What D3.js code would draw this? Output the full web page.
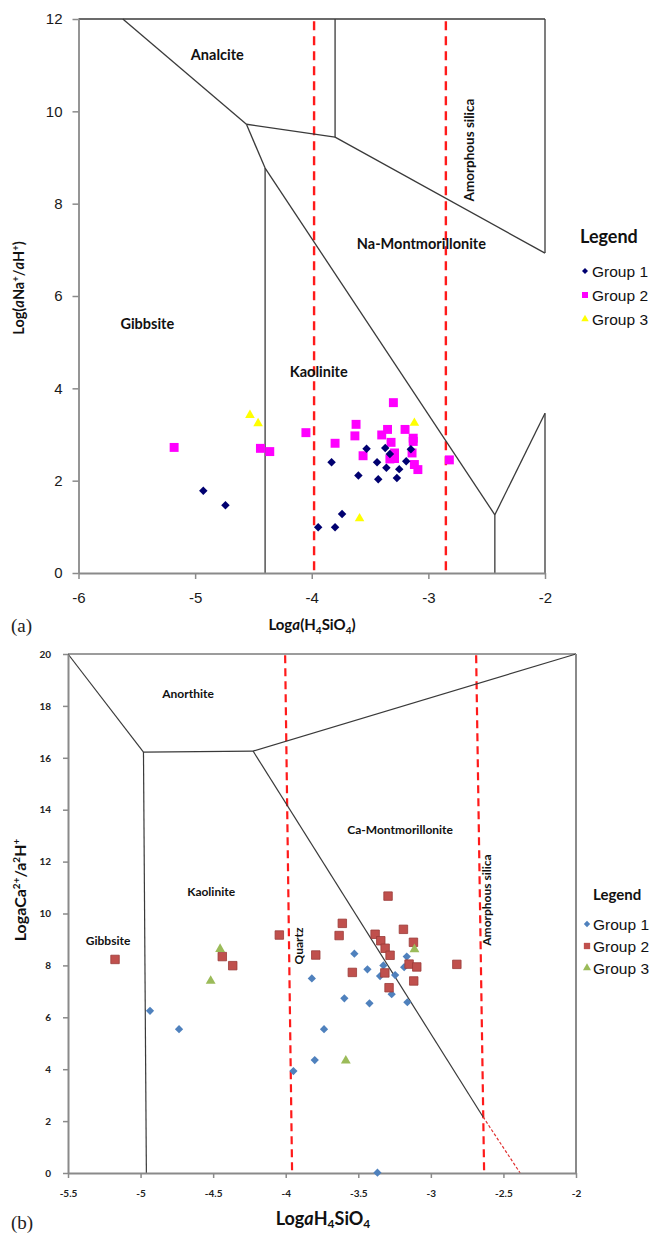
<!DOCTYPE html>
<html lang="en">
<head>
<meta charset="utf-8" />
<title>Stability diagrams</title>
<script src="https://cdn.jsdelivr.net/npm/d3@7"></script>
<style>
  body { margin:0; background:#fff; }
  svg { display:block; }
</style>
</head>
<body>
<script>
// ---- chart (a): Na system ----
var naTicksX = [-6, -5, -4, -3, -2];
var naTicksY = [0, 2, 4, 6, 8, 10, 12];
var naGroup1 = [[-4.93,1.78],[-4.74,1.47],[-3.945,0.99],[-3.80,0.99],[-3.74,1.28],[-3.83,2.40],[-3.60,2.11],[-3.53,2.69],
  [-3.44,2.40],[-3.43,2.03],[-3.37,2.71],[-3.36,2.28],[-3.27,2.06],[-3.25,2.25],[-3.19,2.42],[-3.15,2.68],[-3.33,2.58]];
var naGroup2 = [[-5.18,2.72],[-4.44,2.70],[-4.36,2.63],[-4.05,3.04],[-3.80,2.81],[-3.63,2.97],[-3.62,3.22],[-3.56,2.54],
  [-3.40,2.99],[-3.35,3.11],[-3.30,3.69],[-3.32,2.83],[-3.29,2.60],[-3.33,2.47],[-3.29,2.48],[-3.20,3.11],[-3.13,2.92],
  [-3.13,2.85],[-3.14,2.60],[-3.12,2.35],[-3.09,2.24],[-2.82,2.45]];
var naGroup3 = [[-4.53,3.42],[-4.46,3.24],[-3.12,3.25],[-3.59,1.18]];
// phase boundaries [x1,y1,x2,y2]
var naBounds = [[-6,12,-2,12],[-5.62,12,-4.56,9.72],[-4.56,9.72,-3.80,9.44],[-3.80,9.44,-3.80,12],[-3.80,9.44,-2,6.93],
  [-2,6.93,-2,12],[-4.56,9.72,-4.40,8.77],[-4.40,8.77,-2.43,1.26],[-4.40,8.77,-4.40,0],[-2.43,1.26,-2.43,0],
  [-2.43,1.26,-2,3.46],[-2,3.46,-2,0]];
var naQuartz = [[-3.98,11.95,-3.98,0]];
var naAmorph = [[-2.85,11.95,-2.85,0]];
var naLabels = [["Analcite",-4.81,11.23],["Na-Montmorillonite",-3.06,7.12],["Gibbsite",-5.41,5.39],["Kaolinite",-3.94,4.35]];

// ---- chart (b): Ca system ----
var caTicksX = [-5.5, -5, -4.5, -4, -3.5, -3, -2.5, -2];
var caTicksY = [0, 2, 4, 6, 8, 10, 12, 14, 16, 18, 20];
var caGroup1 = [[-4.935,6.25],[-4.735,5.54],[-3.947,3.93],[-3.80,4.35],[-3.82,7.50],[-3.736,5.54],[-3.596,6.73],[-3.527,8.45],
  [-3.437,7.85],[-3.423,6.54],[-3.368,0.01],[-3.327,8.00],[-3.35,7.59],[-3.246,7.63],[-3.27,6.89],[-3.166,8.34],
  [-3.184,7.93],[-3.162,6.58]];
var caGroup2 = [[-5.176,8.23],[-4.437,8.34],[-4.365,7.99],[-4.044,9.17],[-3.793,8.40],[-3.632,9.15],[-3.61,9.62],[-3.541,7.73],
  [-3.295,10.67],[-3.384,9.20],[-3.345,8.95],[-3.315,8.66],[-3.281,8.39],[-3.189,9.39],[-3.12,8.89],[-3.15,8.05],
  [-3.097,7.94],[-3.317,7.71],[-3.288,7.14],[-3.118,7.40],[-2.821,8.04]];
var caGroup3 = [[-4.452,8.63],[-4.517,7.40],[-3.586,4.33],[-3.113,8.62]];
var caBounds = [[-5.5,20,-2,20],[-5.5,20,-4.98,16.22],[-4.98,16.22,-4.225,16.26],[-4.225,16.26,-2,20],
  [-4.225,16.26,-2.64,2.16],[-4.98,16.22,-4.96,0]];
var caQuartz = [[-4.004,19.95,-3.956,0]];
var caAmorph = [[-2.688,19.95,-2.633,0]];
var caExtra = [[-2.64,2.16,-2.385,0]];
var caLabels = [["Anorthite",-4.673,18.46],["Ca-Montmorillonite",-3.212,13.22],["Kaolinite",-4.514,10.83],["Gibbsite",-5.224,8.94]];

var legendNames = ["Group 1", "Group 2", "Group 3"];

var svg = d3.select('body').append('svg')
  .attr('width', 657)
  .attr('height', 1234);

var lab = 'Lato, "Open Sans", sans-serif';
var arial = '"Liberation Sans", Arial, sans-serif';
var plain = function(d){ return String(d); };

function seg(g, data, x, y, stroke, width, dash) {
  g.selectAll(null).data(data).enter().append('line')
    .attr('x1', function(d){return x(d[0]);})
    .attr('y1', function(d){return y(d[1]);})
    .attr('x2', function(d){return x(d[2]);})
    .attr('y2', function(d){return y(d[3]);})
    .attr('stroke', stroke)
    .attr('stroke-width', width)
    .attr('stroke-dasharray', dash || null);
}

function points(g, data, x, y, type, size, fill, stroke, rot) {
  g.selectAll(null).data(data).enter().append('path')
    .attr('d', d3.symbol().type(type).size(size))
    .attr('transform', function(d){return 'translate(' + x(d[0]) + ',' + y(d[1]) + ')' + (rot ? ' rotate(45)' : '');})
    .attr('fill', fill)
    .attr('stroke', stroke || 'none')
    .attr('stroke-width', stroke ? 0.8 : 0);
}

// ===== (a) =====
var xa = d3.scaleLinear().domain([-6, -2]).range([78.5, 545]);
var ya = d3.scaleLinear().domain([0, 12]).range([573, 19]);
var ga = svg.append('g');

seg(ga, naQuartz, xa, ya, '#ff1a1a', 2.4, '9,6');
seg(ga, naAmorph, xa, ya, '#ff1a1a', 2.4, '9,6');
seg(ga, naBounds, xa, ya, '#3a3a3a', 1.3);

var axA = ga.append('g').attr('transform', 'translate(0,573)')
  .call(d3.axisBottom(xa).tickValues(naTicksX).tickSize(6).tickSizeOuter(0).tickPadding(13).tickFormat(plain));
var ayA = ga.append('g').attr('transform', 'translate(78.5,0)')
  .call(d3.axisLeft(ya).tickValues(naTicksY).tickSize(6).tickSizeOuter(0).tickPadding(10).tickFormat(plain));
[axA, ayA].forEach(function(a) {
  a.select('.domain').attr('stroke', '#8a8a8a').attr('stroke-width', 1.8);
  a.selectAll('.tick line').attr('stroke', '#8a8a8a').attr('stroke-width', 1.5);
  a.selectAll('.tick text').style('font-family', arial).style('font-size', '15px').attr('fill', '#1a1a1a');
});

ga.selectAll(null).data(naLabels).enter().append('text')
  .attr('x', function(d){return xa(d[1]);})
  .attr('y', function(d){return ya(d[2]);})
  .attr('text-anchor', 'middle')
  .attr('dy', '0.35em')
  .style('font-family', lab).style('font-weight', 'bold').style('font-size', '14.5px')
  .attr('fill', '#111')
  .text(function(d){return d[0];});

ga.append('text')
  .attr('transform', 'translate(474,150) rotate(-90)')
  .attr('text-anchor', 'middle')
  .style('font-family', lab).style('font-weight', 'bold').style('font-size', '13.5px')
  .attr('fill', '#111')
  .text('Amorphous silica');

points(ga, naGroup2, xa, ya, d3.symbolSquare, 80, '#ff00ff');
points(ga, naGroup1, xa, ya, d3.symbolSquare, 36, '#000070', null, true);
points(ga, naGroup3, xa, ya, d3.symbolTriangle, 40, '#ffff00');

// axis titles (a)
var tA = ga.append('text').attr('x', 312).attr('y', 630).attr('text-anchor', 'middle')
  .style('font-family', lab).style('font-weight', 'bold').style('font-size', '15px').attr('fill', '#111');
tA.append('tspan').text('Log');
tA.append('tspan').style('font-style', 'italic').text('a');
tA.append('tspan').text('(H');
tA.append('tspan').attr('dy', 4).style('font-size', '10px').text('4');
tA.append('tspan').attr('dy', -4).text('SiO');
tA.append('tspan').attr('dy', 4).style('font-size', '10px').text('4');
tA.append('tspan').attr('dy', -4).text(')');

var tyA = ga.append('text').attr('transform', 'translate(24,288) rotate(-90)').attr('text-anchor', 'middle')
  .style('font-family', lab).style('font-weight', 'bold').style('font-size', '14.5px').attr('fill', '#111');
tyA.append('tspan').text('Log(');
tyA.append('tspan').style('font-style', 'italic').text('a');
tyA.append('tspan').text('Na');
tyA.append('tspan').attr('dy', -5).style('font-size', '9.5px').text('+');
tyA.append('tspan').attr('dy', 5).text('/');
tyA.append('tspan').style('font-style', 'italic').text('a');
tyA.append('tspan').text('H');
tyA.append('tspan').attr('dy', -5).style('font-size', '9.5px').text('+');
tyA.append('tspan').attr('dy', 5).text(')');

svg.append('text').attr('x', 11).attr('y', 632)
  .style('font-family', '"Liberation Serif", "DejaVu Serif", serif').style('font-size', '19px').attr('fill', '#222')
  .text('(a)');

// legend (a)
var legA = svg.append('g');
legA.append('text').attr('x', 580).attr('y', 243)
  .style('font-family', lab).style('font-weight', 'bold').style('font-size', '18px').attr('fill', '#111')
  .text('Legend');
var legTypesA = [[d3.symbolSquare, 18, '#000070', true], [d3.symbolSquare, 36, '#ff00ff', false], [d3.symbolTriangle, 24, '#ffff00', false]];
legendNames.forEach(function(n, i) {
  var cy = 271 + i * 24;
  legA.append('path')
    .attr('d', d3.symbol().type(legTypesA[i][0]).size(legTypesA[i][1]))
    .attr('transform', 'translate(585,' + cy + ')' + (legTypesA[i][3] ? ' rotate(45)' : ''))
    .attr('fill', legTypesA[i][2]);
  legA.append('text').attr('x', 592).attr('y', cy).attr('dy', '0.36em')
    .style('font-family', arial).style('font-size', '15.5px').attr('fill', '#111')
    .text(n);
});

// ===== (b) =====
var xb = d3.scaleLinear().domain([-5.5, -2]).range([68, 576]);
var yb = d3.scaleLinear().domain([0, 20]).range([1173, 654]);
var gb = svg.append('g');

seg(gb, caQuartz, xb, yb, '#ff1a1a', 2.2, '8,5');
seg(gb, caAmorph, xb, yb, '#ff1a1a', 2.2, '8,5');
seg(gb, caExtra, xb, yb, '#e03030', 1.2, '3,2');
seg(gb, caBounds, xb, yb, '#3a3a3a', 1.2);
seg(gb, [[-2, 20, -2, 0]], xb, yb, '#8a8a8a', 2);

var axB = gb.append('g').attr('transform', 'translate(0,1173)')
  .call(d3.axisBottom(xb).tickValues(caTicksX).tickSize(5).tickSizeOuter(0).tickPadding(12).tickFormat(plain));
var ayB = gb.append('g').attr('transform', 'translate(68,0)')
  .call(d3.axisLeft(yb).tickValues(caTicksY).tickSize(5).tickSizeOuter(0).tickPadding(12).tickFormat(plain));
[axB, ayB].forEach(function(a) {
  a.select('.domain').attr('stroke', '#8a8a8a').attr('stroke-width', 2);
  a.selectAll('.tick line').attr('stroke', '#8a8a8a').attr('stroke-width', 1.5);
  a.selectAll('.tick text').style('font-family', lab).style('font-weight', 'bold').style('font-size', '10px').attr('fill', '#222');
});

gb.selectAll(null).data(caLabels).enter().append('text')
  .attr('x', function(d){return xb(d[1]);})
  .attr('y', function(d){return yb(d[2]);})
  .attr('text-anchor', 'middle')
  .attr('dy', '0.35em')
  .style('font-family', lab).style('font-weight', 'bold').style('font-size', '12px')
  .attr('fill', '#111')
  .text(function(d){return d[0];});

gb.append('text')
  .attr('transform', 'translate(303,946) rotate(-90)')
  .attr('text-anchor', 'middle')
  .style('font-family', lab).style('font-weight', 'bold').style('font-size', '12px')
  .attr('fill', '#111')
  .text('Quartz');
gb.append('text')
  .attr('transform', 'translate(491,900) rotate(-90)')
  .attr('text-anchor', 'middle')
  .style('font-family', lab).style('font-weight', 'bold').style('font-size', '12px')
  .attr('fill', '#111')
  .text('Amorphous silica');

points(gb, caGroup1, xb, yb, d3.symbolSquare, 34, '#4f81bd', null, true);
points(gb, caGroup2, xb, yb, d3.symbolSquare, 72, '#c0504d', '#9a3b38');
points(gb, caGroup3, xb, yb, d3.symbolTriangle, 42, '#9bbb59');

// axis titles (b)
var tB = gb.append('text').attr('x', 323).attr('y', 1225).attr('text-anchor', 'middle')
  .style('font-family', lab).style('font-weight', 'bold').style('font-size', '18px').attr('fill', '#111');
tB.append('tspan').text('Log');
tB.append('tspan').style('font-style', 'italic').text('a');
tB.append('tspan').text('H');
tB.append('tspan').attr('dy', 3).style('font-size', '12px').text('4');
tB.append('tspan').attr('dy', -3).text('SiO');
tB.append('tspan').attr('dy', 3).style('font-size', '12px').text('4');

var tyB = gb.append('text').attr('transform', 'translate(26,890) rotate(-90)').attr('text-anchor', 'middle')
  .style('font-family', lab).style('font-weight', 'bold').style('font-size', '16px').attr('fill', '#111');
tyB.append('tspan').text('LogaCa');
tyB.append('tspan').attr('dy', -6).style('font-size', '10px').text('2+');
tyB.append('tspan').attr('dy', 6).text('/a');
tyB.append('tspan').attr('dy', -6).style('font-size', '10px').text('2');
tyB.append('tspan').attr('dy', 6).text('H');
tyB.append('tspan').attr('dy', -6).style('font-size', '10px').text('+');

svg.append('text').attr('x', 11).attr('y', 1229)
  .style('font-family', '"Liberation Serif", "DejaVu Serif", serif').style('font-size', '19px').attr('fill', '#222')
  .text('(b)');

// legend (b)
var legB = svg.append('g');
legB.append('text').attr('x', 593).attr('y', 900)
  .style('font-family', lab).style('font-weight', 'bold').style('font-size', '15px').attr('fill', '#111')
  .text('Legend');
var legTypesB = [[d3.symbolSquare, 20, '#4f81bd', true], [d3.symbolSquare, 40, '#c0504d', false], [d3.symbolTriangle, 28, '#9bbb59', false]];
legendNames.forEach(function(n, i) {
  var cy = 924 + i * 22;
  legB.append('path')
    .attr('d', d3.symbol().type(legTypesB[i][0]).size(legTypesB[i][1]))
    .attr('transform', 'translate(587,' + cy + ')' + (legTypesB[i][3] ? ' rotate(45)' : ''))
    .attr('fill', legTypesB[i][2]);
  legB.append('text').attr('x', 593).attr('y', cy).attr('dy', '0.36em')
    .style('font-family', arial).style('font-size', '15.5px').attr('fill', '#111')
    .text(n);
});
</script>
</body>
</html>
